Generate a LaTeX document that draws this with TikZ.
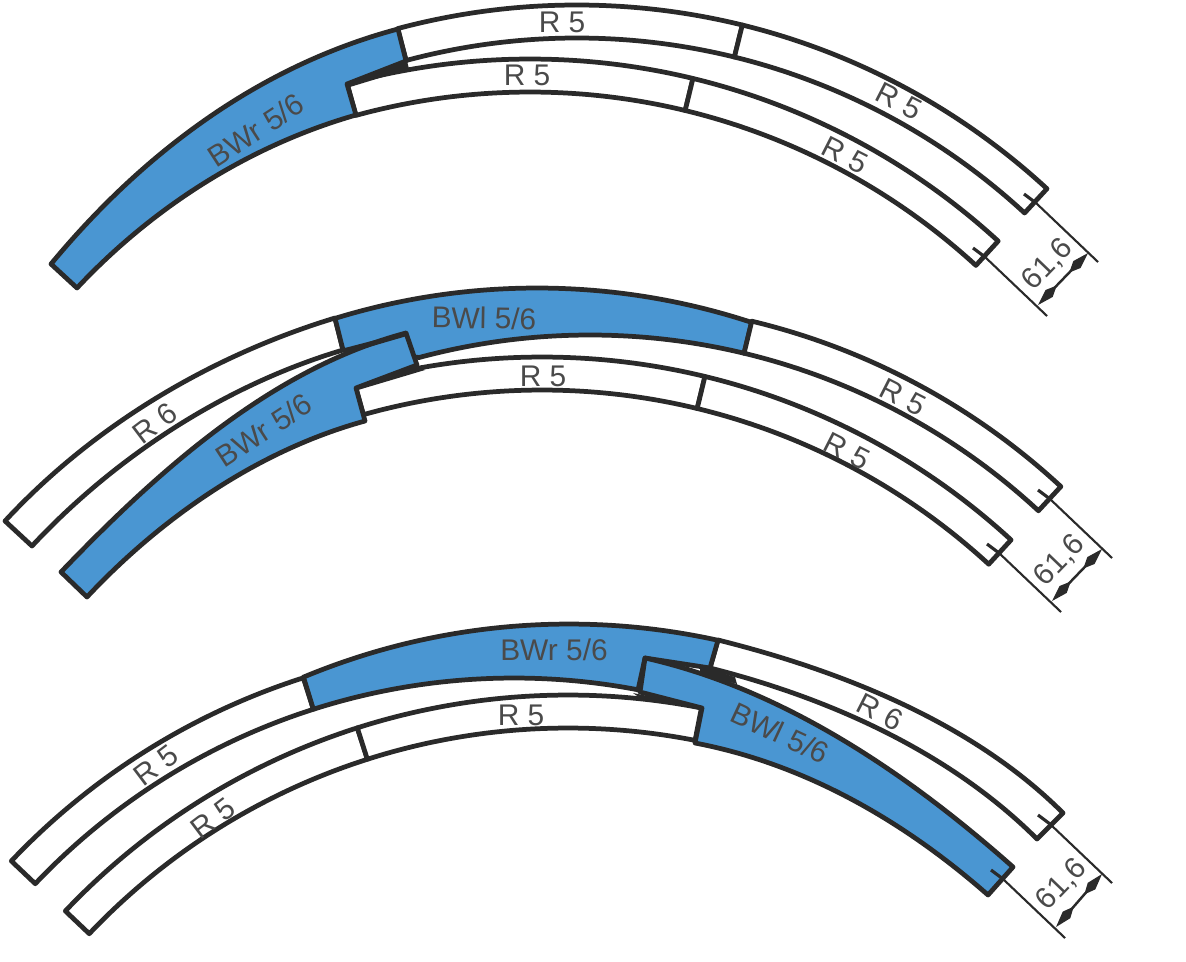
\documentclass[tikz,border=0pt]{standalone}
\usepackage{fontspec}
\setmainfont{Liberation Sans}
\usepackage{xcolor}
\usetikzlibrary{arrows.meta,calc}

\definecolor{railblue}{HTML}{4A96D2}
\definecolor{railink}{HTML}{2A2A2A}

\tikzset{
  railbox/.style={draw=railink,fill=white,line width=1.35pt,line join=round},
  switchbox/.style={railbox,fill=railblue},
  wedge/.style={fill=railink},
  tick/.style={draw=railink,line width=0.9pt},
  dimline/.style={draw=railink,line width=0.6pt},
  dimarrow/.style={draw=railink,line width=0.7pt,
    {Kite[length=2.7mm,width=1mm,inset=1.1mm]}-{Kite[length=2.7mm,width=1mm,inset=1.1mm]}},
  lbl/.style={text=railink!85!white,font=\fontsize{8.5}{10}\selectfont,inner sep=0pt}
}

% one curved piece: centre, start angle, end angle
\newcommand{\trackpiece}[3]{%
  \draw[railbox] ([shift={(#1)}]#2:693) arc[start angle=#2,end angle=#3,radius=693]
    -- ([shift={(#1)}]#3:660) arc[start angle=#3,end angle=#2,radius=660] -- cycle;}

\begin{document}
\begin{tikzpicture}[x=0.01cm,y=0.01cm]
  \useasboundingbox (0,0) rectangle (1186,-961);
  \coordinate (ctopA) at (577,-698);
  \coordinate (clowA) at (530,-752);
  \coordinate (ctopB) at (590,-995);
  \coordinate (clowB) at (542,-1050);
  \coordinate (cbwlB) at (537,-975);
  \coordinate (ctopC) at (514,-1338);
  \coordinate (clowC) at (568,-1388);
  \coordinate (cbwrC) at (569,-1315);

  % top group
  \trackpiece{clowA}{105.3}{76.4}
  \trackpiece{clowA}{76.4}{47.5}
  \trackpiece{ctopA}{105}{76.2}
  \trackpiece{ctopA}{76.2}{47.3}
  \draw[switchbox] (51,-264) .. controls (143,-153) and (259,-66) .. (398,-29)
    -- (406,-61) -- (347,-84) -- (356,-115)
    .. controls (248,-146) and (152,-208) .. (77,-288) -- cycle;
  \fill[wedge] (345,-83) -- (407,-61) -- (409,-69) -- (350,-87) -- cycle;

  % middle group
  \draw[railbox] (5,-521) .. controls (93,-426) and (210,-356) .. (335,-318)
    -- (343,-350) .. controls (225,-385) and (115,-457) .. (32,-546) -- cycle;
  \draw[switchbox] ([shift={(cbwlB)}]107.1:687) arc[start angle=107.1,end angle=71.8,radius=687]
    -- ([shift={(ctopB)}]76.5:660) arc[start angle=76.5,end angle=105,radius=660]
    -- (343,-350) -- cycle;
  \trackpiece{clowB}{105.7}{76.4}
  \trackpiece{clowB}{76.4}{47.4}
  \trackpiece{ctopB}{76.5}{47.2}
  \draw[switchbox] (61,-572) .. controls (158,-471) and (271,-369) .. (406,-333)
    -- (417,-365) -- (356,-388) -- (365,-421)
    .. controls (259,-450) and (162,-517) .. (87,-597) -- cycle;
  \fill[wedge] (341,-349) -- (406,-332) -- (407,-336) -- (345,-354) -- cycle;
  \fill[wedge] (355,-388) -- (417,-366) -- (425,-370) -- (358,-390) -- cycle;

  % bottom group
  \trackpiece{ctopC}{136.5}{107.7}
  \trackpiece{clowC}{136.5}{107.7}
  \draw[railbox] (718,-640) .. controls (842,-671) and (973,-723) .. (1063,-813)
    -- (1037,-839) .. controls (950,-752) and (829,-698) .. (710,-668) -- cycle;
  \draw[switchbox] ([shift={(cbwrC)}]112.6:691) arc[start angle=112.6,end angle=77.55,radius=691]
    -- (710,-668) -- (645,-658) -- (638,-690)
    -- ([shift={(ctopC)}]79.3:660) arc[start angle=79.3,end angle=107.7,radius=660] -- cycle;
  \trackpiece{clowC}{107.7}{78.9}
  \draw[switchbox] (645,-658) .. controls (783,-689) and (907,-773) .. (1013,-867)
    -- (988,-895) .. controls (904,-821) and (805,-764) .. (695,-743)
    -- (702,-708) -- (640,-692) -- cycle;
  \fill[wedge] (700,-666) -- (735,-677) -- (737,-684) -- (700,-674) -- cycle;
  \fill[wedge] (633,-693) -- (702,-707) -- (702,-710) -- (640,-698) -- cycle;

  % dimensions
  \foreach \n/\ux/\uy/\lx/\ly/\tx/\ty in {a/1036/203/985/257/1048/265,
      b/1050/499/999/553/1060/561, c/1050/824/1003/879/1062/885} {
    \coordinate (up\n) at (\ux,-\uy);
    \coordinate (lo\n) at (\lx,-\ly);
    \coordinate (upend\n) at ($(up\n)+(62,-59)$);
    \coordinate (loend\n) at ($(lo\n)+(62,-59)$);
    \coordinate (uptick\n) at ($(up\n)+(-12,9)$);
    \coordinate (lotick\n) at ($(lo\n)+(-12,9)$);
    \coordinate (uparr\n) at ($(up\n)+(52,-50)$);
    \coordinate (loarr\n) at ($(lo\n)+(53,-48)$);
    \draw[tick] (uptick\n) -- (up\n);
    \draw[tick] (lotick\n) -- (lo\n);
    \draw[dimline] (up\n) -- (upend\n);
    \draw[dimline] (lo\n) -- (loend\n);
    \draw[dimarrow] (loarr\n) -- (uparr\n);
    \node[lbl,rotate=46] (dim\n) at (\tx,-\ty) {61,6};
  }

  % labels
  \node[lbl] (rtopA) at (562,-22) {R 5};
  \node[lbl] (rlowA) at (527,-75) {R 5};
  \node[lbl,rotate=-27] (rtoprA) at (899,-101) {R 5};
  \node[lbl,rotate=-27] (rlowrA) at (845,-155) {R 5};
  \node[lbl,rotate=33] (bwrA) at (256,-130) {BWr 5/6};

  \node[lbl,rotate=-1] (bwlB) at (484,-318) {BWl 5/6};
  \node[lbl] (rlowB) at (543,-376) {R 5};
  \node[lbl,rotate=-27] (rtoprB) at (903,-397) {R 5};
  \node[lbl,rotate=-27] (rlowrB) at (847,-451) {R 5};
  \node[lbl,rotate=37] (rsixB) at (155,-423) {R 6};
  \node[lbl,rotate=33] (bwrB) at (264,-430) {BWr 5/6};

  \node[lbl] (bwrC) at (554,-650) {BWr 5/6};
  \node[lbl,rotate=-25] (bwlC) at (780,-733) {BWl 5/6};
  \node[lbl,rotate=-27] (rsixC) at (880,-712) {R 6};
  \node[lbl] (rlowC) at (521,-715) {R 5};
  \node[lbl,rotate=37] (rtoplC) at (156,-765) {R 5};
  \node[lbl,rotate=37] (rlowlC) at (213,-818) {R 5};
\end{tikzpicture}
\end{document}
